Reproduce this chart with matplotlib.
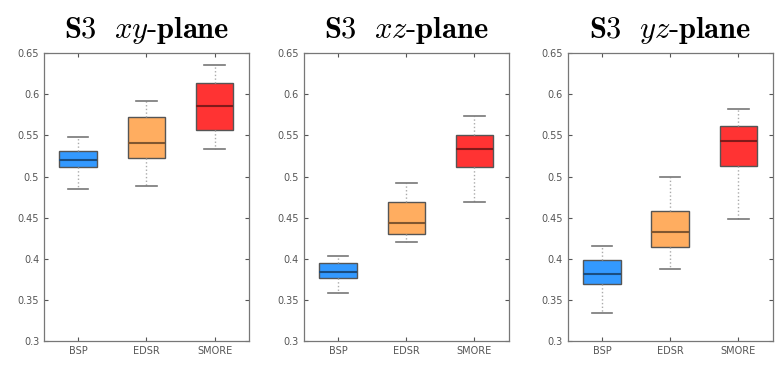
import matplotlib
matplotlib.use("Agg")
import matplotlib.pyplot as plt

plt.rcParams['mathtext.fontset'] = 'cm'

methods = ['BSP', 'EDSR', 'SMORE']
planes = ['xy', 'xz', 'yz']
colors = ['#3399ff', '#ffad60', '#ff3333']
medcolors = ['#1a4d80', '#805630', '#801a1a']

# per plane: [whislo, q1, med, q3, whishi] for each method
xy_stats = [[0.485, 0.511, 0.520, 0.531, 0.548],
            [0.489, 0.523, 0.541, 0.572, 0.592],
            [0.533, 0.556, 0.586, 0.614, 0.635]]
xz_stats = [[0.358, 0.377, 0.384, 0.395, 0.404],
            [0.420, 0.430, 0.444, 0.469, 0.492],
            [0.469, 0.511, 0.534, 0.550, 0.574]]
yz_stats = [[0.334, 0.370, 0.382, 0.399, 0.415],
            [0.388, 0.414, 0.432, 0.458, 0.499],
            [0.448, 0.513, 0.543, 0.561, 0.582]]
all_stats = [xy_stats, xz_stats, yz_stats]

fig = plt.figure(figsize=(7.78, 3.66), dpi=100)
lefts = [0.0566, 0.3907, 0.730]
yticks = [0.3, 0.35, 0.4, 0.45, 0.5, 0.55, 0.6, 0.65]

for i, plane in enumerate(planes):
    ax = fig.add_axes([lefts[i], 0.068, 0.263, 0.787])
    stats = []
    for m, s in zip(methods, all_stats[i]):
        stats.append(dict(label=m, whislo=s[0], q1=s[1], med=s[2], q3=s[3], whishi=s[4], fliers=[]))
    bp = ax.bxp(stats, positions=[1, 2, 3], widths=0.55, patch_artist=True, showfliers=False,
                boxprops=dict(edgecolor='#555555', linewidth=1.0),
                whiskerprops=dict(color='#aaaaaa', linestyle=':', linewidth=1.0),
                capprops=dict(color='#777777', linewidth=1.2),
                medianprops=dict(linewidth=1.5))
    for j, box in enumerate(bp['boxes']):
        box.set_facecolor(colors[j])
    for j, med in enumerate(bp['medians']):
        med.set_color(medcolors[j])
    for cap in bp['caps']:
        x = cap.get_xdata()
        c = (x[0] + x[1]) / 2
        cap.set_xdata([c - 0.15, c + 0.15])
    ax.set_xlim(0.5, 3.5)
    ax.set_ylim(0.3, 0.65)
    ax.set_yticks(yticks)
    ax.set_yticklabels(['0.3', '0.35', '0.4', '0.45', '0.5', '0.55', '0.6', '0.65'])
    ax.tick_params(direction='in', top=True, right=True, length=3, width=0.8,
                   colors='#555555', labelsize=7, labelcolor='#555555')
    ax.tick_params(axis='x', labelsize=7)
    for sp in ax.spines.values():
        sp.set_color('#777777')
        sp.set_linewidth(0.9)
    ax.set_title(r'$\mathbf{S3}\ \ %s\mathbf{\text{-}plane}$' % plane, fontsize=22, pad=11)

fig.savefig('out.png', dpi=100)
